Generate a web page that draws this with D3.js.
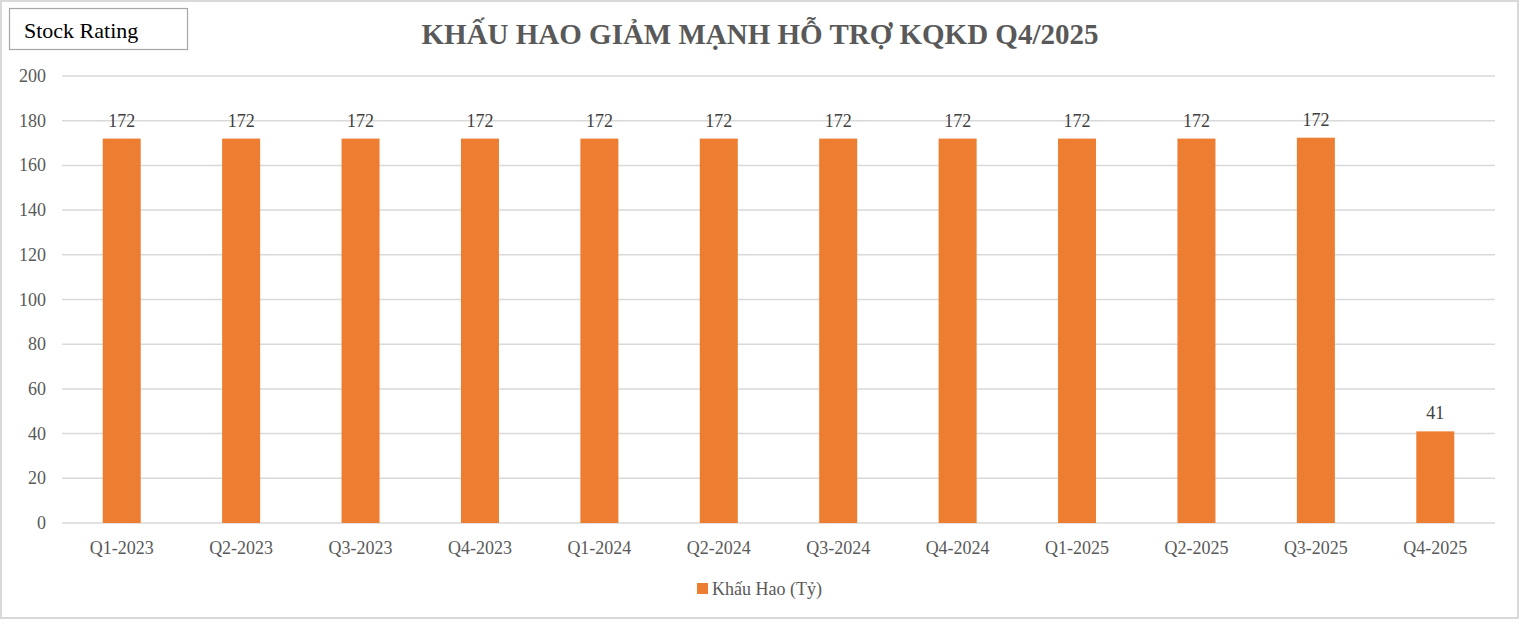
<!DOCTYPE html>
<html><head><meta charset="utf-8">
<script src="https://cdn.jsdelivr.net/npm/d3@7"></script>
<style>body{margin:0;background:#fff}svg{display:block}text{font-family:"Liberation Serif","DejaVu Serif",serif}</style>
</head><body>
<script>
var categories = ['Q1-2023','Q2-2023','Q3-2023','Q4-2023','Q1-2024','Q2-2024','Q3-2024','Q4-2024','Q1-2025','Q2-2025','Q3-2025','Q4-2025'];
var khauHao = [172,172,172,172,172,172,172,172,172,172,172.4,41];
var yTicks = [0,20,40,60,80,100,120,140,160,180,200];

var W = 1519, H = 619;
var svg = d3.select('body').append('svg').attr('width',W).attr('height',H);

svg.append('rect').attr('x',1).attr('y',1).attr('width',W-2).attr('height',H-2)
    .attr('fill','#fff').attr('stroke','#d9d9d9').attr('stroke-width',2);

svg.append('rect').attr('x',9.5).attr('y',8.5).attr('width',178).attr('height',41)
    .attr('fill','#fff').attr('stroke','#a6a6a6').attr('stroke-width',1.2);
svg.append('text').attr('x',24).attr('y',38).attr('font-size',22).attr('fill','#000').text('Stock Rating');

svg.append('text').attr('x',760).attr('y',44).attr('text-anchor','middle')
    .attr('font-size',29).attr('font-weight','bold').attr('fill','#595959')
    .text('KHẤU HAO GIẢM MẠNH HỖ TRỢ KQKD Q4/2025');

var x = d3.scaleBand().domain(categories).range([62,1495]);
var y = d3.scaleLinear().domain([0,200]).range([523,76]);

svg.selectAll('line.grid').data(yTicks).enter().append('line')
    .attr('class','grid')
    .attr('x1',62).attr('x2',1495)
    .attr('y1',function(d){return y(d);}).attr('y2',function(d){return y(d);})
    .attr('stroke','#d9d9d9').attr('stroke-width',1.5);

svg.selectAll('text.ytick').data(yTicks).enter().append('text')
    .attr('class','ytick')
    .attr('x',46).attr('y',function(d){return y(d)+6;})
    .attr('text-anchor','end').attr('font-size',18).attr('fill','#595959')
    .text(function(d){return d;});

var bw = 38;
svg.selectAll('rect.bar').data(khauHao).enter().append('rect')
    .attr('class','bar')
    .attr('x',function(d,i){return x(categories[i])+x.bandwidth()/2-bw/2;})
    .attr('y',function(d){return y(d);})
    .attr('width',bw)
    .attr('height',function(d){return y(0)-y(d);})
    .attr('fill','#ed7d31');

svg.selectAll('text.lbl').data(khauHao).enter().append('text')
    .attr('class','lbl')
    .attr('x',function(d,i){return x(categories[i])+x.bandwidth()/2;})
    .attr('y',function(d){return y(d)-12;})
    .attr('text-anchor','middle').attr('font-size',18).attr('fill','#404040')
    .text(function(d){return Math.round(d);});

svg.selectAll('text.xtick').data(categories).enter().append('text')
    .attr('class','xtick')
    .attr('x',function(d){return x(d)+x.bandwidth()/2;})
    .attr('y',554).attr('text-anchor','middle').attr('font-size',18).attr('fill','#595959')
    .text(function(d){return d;});

svg.append('rect').attr('x',697).attr('y',583).attr('width',11).attr('height',11).attr('fill','#ed7d31');
svg.append('text').attr('x',712).attr('y',595).attr('font-size',18).attr('fill','#595959').text('Khấu Hao (Tỷ)');
</script>
</body></html>
